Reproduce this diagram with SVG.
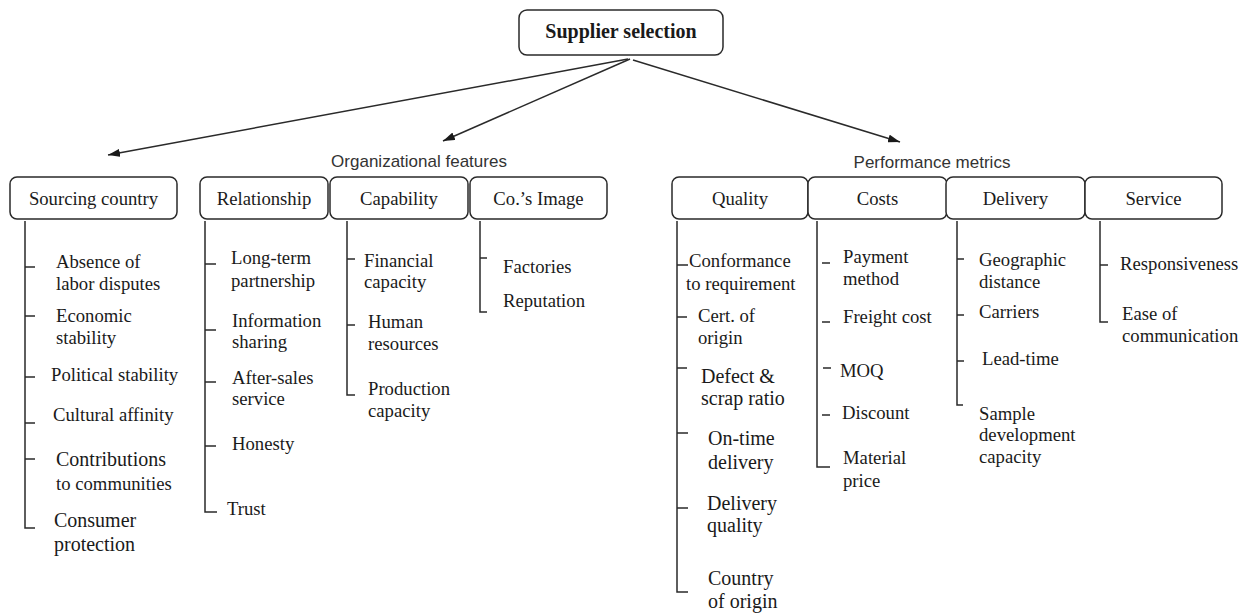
<svg xmlns="http://www.w3.org/2000/svg" width="1244" height="613" viewBox="0 0 1244 613">
<style>
  .bg { fill: #ffffff; }
  .box { fill: #ffffff; stroke: #2a2a2a; stroke-width: 1.5; }
  .title { font-family: "Liberation Serif", "Times New Roman", serif; font-size: 20px; font-weight: bold; fill: #1a1a1a; text-anchor: middle; }
  .cat { font-family: "Liberation Serif", "Times New Roman", serif; font-size: 18.7px; fill: #1a1a1a; text-anchor: middle; }
  .item { font-family: "Liberation Serif", "Times New Roman", serif; font-size: 18.7px; fill: #1a1a1a; }
  .big { font-size: 20px; }
  .grp { font-family: "Liberation Sans", Arial, sans-serif; font-size: 17px; fill: #333333; text-anchor: middle; }
  .arrow { fill: none; stroke: #2a2a2a; stroke-width: 1.5; }
  .tree { fill: none; stroke: #2a2a2a; stroke-width: 1.5; }
</style>
<defs>
  <marker id="ah" viewBox="0 0 12 8" refX="12" refY="4" markerWidth="12" markerHeight="8" markerUnits="userSpaceOnUse" orient="auto">
    <path d="M0 0 L12 4 L0 8 Z" fill="#1a1a1a"/>
  </marker>
</defs>
<rect class="bg" x="0" y="0" width="1244" height="613"/>

<g id="connectors">
  <line class="arrow" x1="628" y1="59" x2="108" y2="155" marker-end="url(#ah)"/>
  <line class="arrow" x1="630" y1="59" x2="443" y2="141" marker-end="url(#ah)"/>
  <line class="arrow" x1="633" y1="60" x2="900" y2="142" marker-end="url(#ah)"/>
  <path id="tree-sourcing" class="tree" d="M25 221 V528 H35 M25 267 H35 M25 316 H35 M25 377 H35 M25 423 H35 M25 459 H35"/>
  <path id="tree-relationship" class="tree" d="M205 221 V512 H217 M205 264 H216 M205 330 H216 M205 382 H216 M205 446 H216"/>
  <path id="tree-capability" class="tree" d="M347 221 V395 H355 M347 259 H355 M347 325 H355"/>
  <path id="tree-image" class="tree" d="M480 221 V312 H487 M480 258 H487"/>
  <path id="tree-quality" class="tree" d="M677 221 V592 H688 M677 265 H688 M677 317 H687 M677 368 H687 M677 433 H688 M677 508 H688"/>
  <path id="tree-costs" class="tree" d="M817 221 V467 H830 M822 263 H830 M822 322 H830 M823 368 H831 M822 415 H830"/>
  <path id="tree-delivery" class="tree" d="M957 221 V405 H963 M957 259 H964 M957 315 H964 M957 361 H964"/>
  <path id="tree-service" class="tree" d="M1100 221 V322 H1108 M1100 265 H1108"/>
</g>

<g id="supplier-selection">
  <rect class="box" x="519" y="10" width="204" height="45" rx="8"/>
  <text class="title" x="621" y="38">Supplier selection</text>
</g>

<g id="label-organizational">
  <text class="grp" x="419" y="167">Organizational features</text>
</g>
<g id="label-performance">
  <text class="grp" x="932" y="168">Performance metrics</text>
</g>

<g id="sourcing-country">
  <rect class="box" x="10" y="177" width="167" height="42" rx="7"/>
  <text class="cat" x="93.5" y="205">Sourcing country</text>
  <text class="item" x="56" y="268">Absence of</text>
  <text class="item" x="56" y="290">labor disputes</text>
  <text class="item" x="56" y="322">Economic</text>
  <text class="item" x="56" y="344">stability</text>
  <text class="item" x="51" y="381">Political stability</text>
  <text class="item" x="53" y="421">Cultural affinity</text>
  <text class="item big" x="56" y="466">Contributions</text>
  <text class="item" x="56" y="490">to communities</text>
  <text class="item big" x="54" y="527">Consumer</text>
  <text class="item big" x="54" y="551">protection</text>
</g>

<g id="relationship">
  <rect class="box" x="200" y="177" width="128" height="42" rx="7"/>
  <text class="cat" x="264" y="205">Relationship</text>
  <text class="item" x="231" y="264">Long-term</text>
  <text class="item" x="231" y="287">partnership</text>
  <text class="item" x="232" y="327">Information</text>
  <text class="item" x="232" y="348">sharing</text>
  <text class="item" x="232" y="384">After-sales</text>
  <text class="item" x="232" y="405">service</text>
  <text class="item" x="232" y="450">Honesty</text>
  <text class="item" x="227" y="515">Trust</text>
</g>

<g id="capability">
  <rect class="box" x="330" y="177" width="138" height="42" rx="7"/>
  <text class="cat" x="399" y="205">Capability</text>
  <text class="item" x="364" y="267">Financial</text>
  <text class="item" x="364" y="288">capacity</text>
  <text class="item" x="368" y="328">Human</text>
  <text class="item" x="368" y="350">resources</text>
  <text class="item" x="368" y="395">Production</text>
  <text class="item" x="368" y="417">capacity</text>
</g>

<g id="cos-image">
  <rect class="box" x="470" y="177" width="137" height="42" rx="7"/>
  <text class="cat" x="538.5" y="205">Co.’s Image</text>
  <text class="item" x="503" y="273">Factories</text>
  <text class="item" x="503" y="307">Reputation</text>
</g>

<g id="quality">
  <rect class="box" x="672" y="177" width="136" height="42" rx="7"/>
  <text class="cat" x="740" y="205">Quality</text>
  <text class="item" x="689" y="267">Conformance</text>
  <text class="item" x="686" y="290">to requirement</text>
  <text class="item" x="698" y="322">Cert. of</text>
  <text class="item" x="698" y="344">origin</text>
  <text class="item big" x="701" y="383">Defect &amp;</text>
  <text class="item big" x="701" y="405">scrap ratio</text>
  <text class="item big" x="708" y="445">On-time</text>
  <text class="item big" x="708" y="469">delivery</text>
  <text class="item big" x="707" y="510">Delivery</text>
  <text class="item big" x="707" y="532">quality</text>
  <text class="item big" x="708" y="585">Country</text>
  <text class="item big" x="708" y="608">of origin</text>
</g>

<g id="costs">
  <rect class="box" x="808" y="177" width="139" height="42" rx="7"/>
  <text class="cat" x="877.5" y="205">Costs</text>
  <text class="item" x="843" y="263">Payment</text>
  <text class="item" x="843" y="285">method</text>
  <text class="item" x="843" y="323">Freight cost</text>
  <text class="item" x="840" y="377">MOQ</text>
  <text class="item" x="842" y="419">Discount</text>
  <text class="item" x="843" y="464">Material</text>
  <text class="item" x="843" y="487">price</text>
</g>

<g id="delivery">
  <rect class="box" x="946" y="177" width="139" height="42" rx="7"/>
  <text class="cat" x="1015.5" y="205">Delivery</text>
  <text class="item" x="979" y="266">Geographic</text>
  <text class="item" x="979" y="288">distance</text>
  <text class="item" x="979" y="318">Carriers</text>
  <text class="item" x="982" y="365">Lead-time</text>
  <text class="item" x="979" y="420">Sample</text>
  <text class="item" x="979" y="441">development</text>
  <text class="item" x="979" y="463">capacity</text>
</g>

<g id="service">
  <rect class="box" x="1085" y="177" width="137" height="42" rx="7"/>
  <text class="cat" x="1153.5" y="205">Service</text>
  <text class="item" x="1120" y="270">Responsiveness</text>
  <text class="item" x="1122" y="320">Ease of</text>
  <text class="item" x="1122" y="342">communication</text>
</g>
</svg>
